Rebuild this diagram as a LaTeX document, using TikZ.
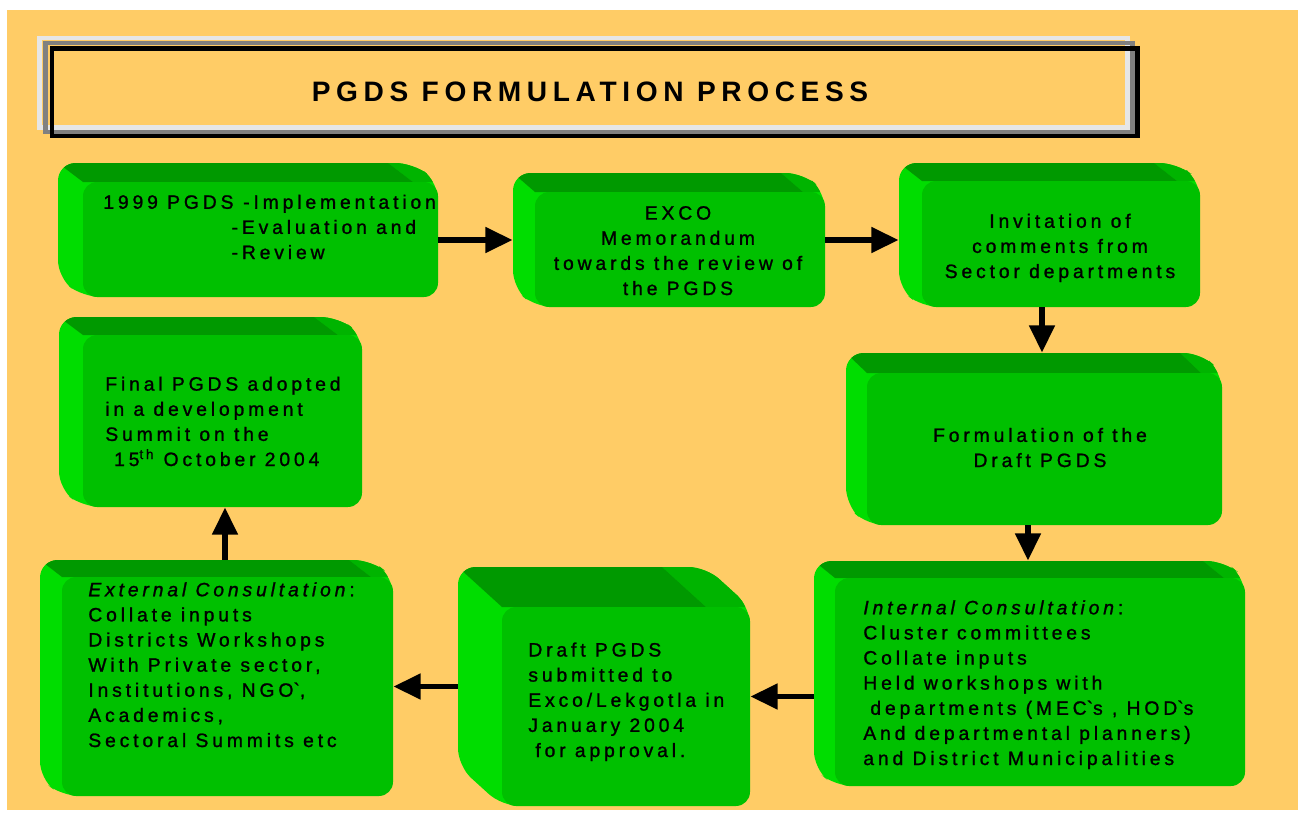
\documentclass[tikz,border=0pt]{standalone}
\usepackage{fontspec}
\setmainfont{Liberation Sans}[LetterSpace=20,FakeBold=1.2]
\newfontfamily\titlefont{Liberation Sans}[LetterSpace=20]
\usetikzlibrary{arrows.meta,fit}

\definecolor{pagebg}{HTML}{FFCC66}
\definecolor{boxfront}{HTML}{00C000}
\definecolor{boxtop}{HTML}{009900}
\definecolor{boxside}{HTML}{00DD00}
\definecolor{boxedge}{HTML}{00B400}
\definecolor{framelight}{HTML}{E6E6E6}
\definecolor{framemid}{HTML}{808080}

\tikzstyle{boxtext} = [inner sep=0pt, font=\fontsize{11}{14.3}\selectfont, align=left, anchor=base west]
\tikzstyle{boxtextc} = [boxtext, align=center, anchor=base]
\tikzstyle{flow} = [-{Triangle[length=15.5pt,width=14pt]}, line width=3.3pt]

% name, left, top, right, bottom, depth x, depth y
\newcommand{\pgdsbox}[7]{%
  \begin{scope}
    \clip[rounded corners=10pt] (#2,#3) -- ({#4-#6},#3) -- (#4,{#3+#7}) -- (#4,#5) -- ({#2+#6},#5) -- (#2,{#5-#7}) -- cycle;
    \fill[boxside] (#2,#3) rectangle (#4,#5);
    \fill[boxedge] ({#4-#6-#6},#3) -- (#4,#3) -- (#4,{#3+#7}) -- ({#4-#6},{#3+#7}) -- cycle;
    \fill[boxtop] (#2,#3) -- ({#4-#6-#6},#3) -- ({#4-#6},{#3+#7}) -- ({#2+#6},{#3+#7}) -- cycle;
  \end{scope}
  \fill[boxfront, rounded corners=8pt] ({#2+#6},{#3+#7}) rectangle (#4,#5);
  \node[fit={(#2,#3) (#4,#5)}, inner sep=0pt] (#1) {};
}

\begin{document}
\begin{tikzpicture}[x=0.02cm, y=-0.02cm]
    \useasboundingbox (0,0) rectangle (1303,815);
    \fill[white] (0,0) rectangle (1303,815);
    \fill[pagebg] (7,10) rectangle (1298,810);

    % title frame
    \draw[framelight, line width=2.8pt] (39.5,38) rectangle (1127.5,127.5);
    \draw[framemid, line width=2.5pt] (45.5,43) rectangle (1132.5,132);
    \draw[black, line width=2.8pt] (52,48.5) rectangle (1137.5,136);
    \node[font=\titlefont\bfseries\fontsize{16}{19}\selectfont] (title) at (590,92) {PGDS FORMULATION PROCESS};

    \pgdsbox{b1}{58}{163}{438}{297}{25}{19}
    \pgdsbox{b2}{513}{173}{825}{307}{22}{19}
    \pgdsbox{b3}{899}{163}{1200}{307}{23}{18}
    \pgdsbox{b4}{846}{353}{1222}{525}{21}{20}
    \pgdsbox{b5}{814}{561}{1245}{786}{21}{17}
    \pgdsbox{b6}{458}{567}{750}{806}{44}{40}
    \pgdsbox{b7}{40}{560}{393}{796}{22}{17}
    \pgdsbox{b8}{59}{317}{362}{507}{24}{18}

    % base of a multi-line node is its last line
    \node[boxtext] (t1) at (103,259) {1999 PGDS\enspace-Implementation\\\hspace*{73pt}-Evaluation and\\\hspace*{73pt}-Review};
    \node[boxtextc] (t2) at (678,295) {EXCO\\Memorandum\\towards the review of\\the PGDS};
    \node[boxtextc] (t3) at (1060,278) {Invitation of\\comments from\\Sector departments};
    \node[boxtextc] (t4) at (1040,467) {Formulation of the\\Draft PGDS};
    \node[boxtext] (t5) at (863,765) {\textit{Internal Consultation}:\\Cluster committees\\Collate inputs\\Held workshops with\\\hspace*{4pt}departments (MEC\textasciigrave s , HOD\textasciigrave s\\And departmental planners)\\and District Municipalities};
    \node[boxtext] (t6) at (528,757) {Draft PGDS\\submitted to\\Exco/Lekgotla in\\January 2004\\\hspace*{4pt}for approval.};
    \node[boxtext] (t7) at (88,747) {\textit{External Consultation}:\\Collate inputs\\Districts Workshops\\With Private sector,\\Institutions, NGO\textasciigrave,\\Academics,\\Sectoral Summits etc};
    \node[boxtext] (t8) at (105,466) {Final PGDS adopted\\in a development\\Summit on the\\\hspace*{5pt}15\textsuperscript{th} October 2004};

    \coordinate (m3) at ([xshift=-0.15cm]b3.south);
    \coordinate (m4) at ([xshift=-0.12cm]b4.south);
    \coordinate (m5) at ([yshift=-0.2cm]b6.east);
    \coordinate (m7) at ([xshift=0.17cm]b7.north);

    \draw[flow] (b1.east |- b2) -- (b2.west);
    \draw[flow] (b2.east) -- (b2.east -| b3.west);
    \draw[flow] (m3) -- (m3 |- b4.north);
    \draw[flow] (m4) -- (m4 |- b5.north);
    \draw[flow] (b5.west |- m5) -- (m5);
    \draw[flow] (b6.west) -- (b6.west -| b7.east);
    \draw[flow] (m7) -- (m7 |- b8.south);
\end{tikzpicture}
\end{document}
